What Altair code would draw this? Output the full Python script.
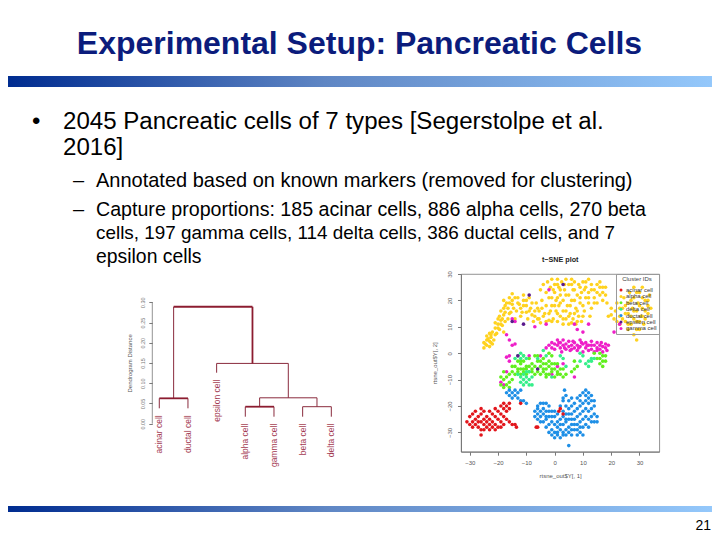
import altair as alt
import pandas as pd

FONT = "Liberation Sans"

title_text = "Experimental Setup: Pancreatic Cells"
bullet_lines = ["2045 Pancreatic cells of 7 types [Segerstolpe et al.", "2016]"]
sub_lines = [
    "Annotated based on known markers (removed for clustering)",
    "Capture proportions: 185 acinar cells, 886 alpha cells, 270 beta",
    "cells, 197 gamma cells, 114 delta cells, 386 ductal cells, and 7",
    "epsilon cells",
]
page_number = "21"

# dendrogram
leaf_names = ["acinar cell", "ductal cell", "epsilon cell", "alpha cell", "gamma cell", "beta cell", "delta cell"]
leaf_pos = [1, 2, 3, 4, 5, 6, 7]
leaf_tip = [0.038, 0.038, 0.126, 0.0173, 0.0173, 0.0173, 0.0173]
merge_left = [1, 4, 6, 4.5, 3, 1.5]
merge_right = [2, 5, 7, 6.5, 5.5, 4.25]
merge_height = [0.0627, 0.042, 0.042, 0.064, 0.149, 0.289]
merge_left_end = [0.038, 0.0173, 0.0173, 0.042, 0.126, 0.0627]
merge_right_end = [0.038, 0.0173, 0.0173, 0.042, 0.064, 0.149]
dist_ticks = [0, 0.05, 0.10, 0.15, 0.20, 0.25, 0.30]

# t-SNE clusters
alpha_pts = [
 (-25,2),(-24,3),(-25,4),(-24,5),(-23,2.5),(-23,4.5),(-22.5,6),(-24,6.5),(-23,7.5),(-22,8),(-21.5,5),(-22,3.5),
 (-21,9.5),(-20.5,7.5),(-20,11),(-21,11.5),(-19.5,9),(-19,12.5),(-18.5,10.5),(-19.5,14),(-18,14.5),(-18,17),
 (-19,16),(-17.5,12),(-16.5,13),(-17,19),(-18,20),(-16,21),(-16.5,17),(-15.5,15.5),(-15,18.5),(-14,21),(-15,22.5),
 (-13.5,16),(-13,19),(-12,17),(-12,14),(-11,20),(-11,22),(-10,18),(-10,15.5),(-9,21),(-9.5,13),(-8.5,17),(-8,14.5),
 (-7.5,12),(-7,16),(-6.5,19),(-6,13),(-5.5,16),(-5,11.5),(-5,24),(-4.5,20),(-4,14),(-4,26),(-3,18),(-3,23),(-3,12),
 (-2.5,27),(-2,15),(-2,21),(-1.5,25),(-1,18),(-1,28),(-0.5,13),(0,23),(0,26),(0.5,16),(0.5,20),(1,28),(1,12),
 (1.5,18),(1.5,25),(2,14),(2,22),(2.5,27),(3,16),(3,20),(3,11),(3.5,24),(4,13),(4,28),(4.5,18),(5,22),(5,26),
 (5,11),(5.5,15),(6,20),(6.5,24),(6.5,13),(7,27),(7.5,17),(7.5,11),(8,22),(8.5,26),(8.5,14),(9,19),(9.5,23),
 (9.5,12),(10,27),(10.5,16),(11,21),(11,25),(12,19),(12,23),(12.5,14),(13,26),(13,17),(14,21),(14,24),(15,19),
 (15,26),(16,22),(16,25),(17,20),(17,23),(18,25),(18.5,19),(19,14),(20,17),(21,13),(21.5,16),(22,19),(23,14),
 (23,11),(24,17),(24.5,21),(25,12),(25,15),(26,19),(26,9),(26.5,23),(27,14),(27,11),(27.5,17),(28,25),(28,21),
 (29,16),(29,12),(29.5,19),(30,23),(30,9),(30.5,14),(31,25),(31,17),(31.5,11),(32,20),(32,13),(33,18),(33,15),
 (33.5,22),(34,17),(28,7),(29,5),(-14,13),(-18,8),(-6,17),(1,21),(7,15),(12,28),(6,28),
 (-24.5,3.5),(-23.5,5.5),(-22.5,4),(-22.5,7),(-21,7),(-20,9.5),(-19,11),(-20,13),(-18.5,13),(-17.5,15.5),(-17.5,18),
 (-16,15),(-16,19),(-15,20),(-14.5,17),(-13,21),(-12.5,18.5),(-11.5,15.5),(-11,18),(-10,20),(-9,16),(-8,19),(-7,14),
 (-5.5,13),(-4.5,17),(-3.5,15),(-2,12.5),(-1.5,16),(-1,21),(-0.5,24),(0,18),(1,15),(1,26),(2,19),(2,24),(3,13),
 (3.5,26),(4,22),(4,16),(5,14),(5.5,18),(6,26),(6,11.5),(7,20),(7,24),(8,16),(8,12),(9,25),(9,21),(10,18),(10,14),
 (10.5,24),(11,27),(12,21),(13,24),(14,19),(15,23),(16,27),(17,25),(18,22),(20,14.5),(22,12),(23,17),(24,13),(25,18),
 (26,11),(26,15),(27,20),(28,13),(28,16),(29,23),(30,12),(30,18),(31,21),(32,16),(33,20),(29,9),(31,14),(-1,12),
]
gamma_pts = [
 (-3,2),(-2,3),(-1,4),(-1,2),(0,3.5),(0,1.5),(1,5),(1,3),(2,2),(2,4),(2.5,0.5),(3,3),(3,5),(4,1.5),(4,3.5),
 (5,2.5),(5,4.5),(5.5,1),(6,3),(7,4),(7,2),(8,1),(8,3),(9,5),(9,2.5),(10,0.5),(10,3.5),(11,2),(11,4),(12,1),
 (12,3),(13,4.5),(13,1.5),(14,3),(14,0.5),(15,2),(15,4),(16,1.5),(16,3),(17,2.5),(17,0.5),(18,3.5),(18,2),(19,3),
 (-5,-1),(-9,-1),(-16,-1),(-17,-1.5),(-16,-3),(-16,5),(-15,3),(-14,3.5),(-17,7),(-15,13),(-14,12),(-7,10),(-3,11),
 (-2,24),(8,9),(10,8),(12,11),(1,-5),(-19,-11),(-18,-12),(-17,-7),(-1,-8),(3,-4),(7,-9),(21,8),(23,11),(7,11),
 (1.5,4),(3.5,2),(6,1.5),(6.5,4.5),(8.5,2),(9.5,4),(11.5,3),(13,3),(15,1),(16.5,4),(18.5,1),
]
beta_pts = [
 (-15,-7),(-14,-5),(-14,-8),(-13,-3),(-13,-6),(-12,-8),(-12,-4),(-11,-6),(-11,-3),(-10,-8),(-10,-5),(-9,-2),
 (-8,-6),(-8,-4),(-7,-1),(-7,-8),(-6,-3),(-6,-6),(-5,-5),(-5,-8),(-4,-2),(-4,-4),(-4,-7),(-3,-9),(-3,-6),(-2,-3),
 (-2,-5),(-2,-8),(-1,-7),(-1,-4),(0,-6),(0,-9),(1,-7),(1,-4),(2,-8),(3,-6),(3,-9),(4,-8),(-6,-1),(-11,-1),
 (-2,0),(-1,-1),(6,-7),(7,-6),(7,-3),(8,-5),(16,0),(17,-1),(16,-2),(17,-3),(16,-4),(15,-2),(18,-1),(18,-3),(17,-5),
 (14,0),(-19,-9),(-18,-10),(-18,-7),(-17,-9),(-17,-12),(-16,-11),(-16,-8),(-15,-10),(-19,-12),(-16,-13),(-18,-13),(-15,-5),
 (-13,-7),(-12,-6),(-11,-7),(-10,-6),(-9,-5),(-9,-7),(-8,-7),(-7,-5),(-6,-7),(-5,-3),(-4,-6),(-3,-4),(-3,-8),(-1,-6),(0,-4),(1,-8),(2,-6),(-12,-3),
]
delta_pts = [
 (-14,-2),(-13,-1),(-12,-2),(-11,-1),(-12,0),(-10,-2),(-13,-8),(-12,-9),(-11,-8),(-10,-9),(-12,-11),(-11,-10),
 (-10,-11),(-9,-10),(-9,-12),(-10,-7),(-8,-12),(-8,-9),(-11,-12),(-9,-7),(11,-4),(12,-3),(13,-3),(14,-2),(12,-5),(13,-2),
 (-6,-2),(-4,1),(-3,-1),(3,-2),(-1,-9),(4,-5),(2,-1),(10,-1),(9,0),(9,-3),
]
ductal_pts = [
 (-17,-15),(-16,-14),(-16,-16),(-15,-15),(-15,-17),(-14,-16),(-14,-14),(-13,-17),(-13,-15),(-12,-14),(-12,-18),(-11,-18),(-10,-19),
 (3.5,-14),(5,-35),(-7,-22),(-7,-24),(-6,-20),(-6,-23),(-6,-25),(-5,-19),(-5,-22),(-5,-24),(-4,-21),(-4,-23),(-4,-26),
 (-3,-19),(-3,-22),(-3,-25),(-3,-28),(-2,-20),(-2,-24),(-2,-27),(-2,-30),(-1,-22),(-1,-26),(-1,-29),(-1,-31),(0,-24),(0,-27),
 (0,-30),(0,-32),(1,-23),(1,-26),(1,-28),(1,-31),(2,-20),(2,-25),(2,-29),(2,-32),(3,-18),(3,-22),(3,-24),(3,-27),(3,-30),
 (4,-16),(4,-20),(4,-23),(4,-26),(4,-29),(4,-31),(5,-18),(5,-21),(5,-25),(5,-28),(5,-30),(6,-17),(6,-20),(6,-23),(6,-27),
 (6,-31),(7,-19),(7,-22),(7,-25),(7,-29),(8,-17),(8,-21),(8,-24),(8,-27),(8,-31),(9,-18),(9,-20),(9,-23),(9,-26),(9,-30),
 (10,-15),(10,-19),(10,-22),(10,-25),(10,-28),(10,-31),(11,-14),(11,-18),(11,-21),(11,-24),(11,-27),(12,-15),(12,-19),(12,-22),
 (12,-25),(12,-28),(13,-18),(13,-21),(13,-24),(13,-26),(14,-20),(14,-23),(14,-26),(15,-24),(15,-26),(3,-17),
 (-6,-21),(-5,-26),(-4,-19),(-3,-24),(-2,-22),(-1,-24),(0,-22),(1,-30),(2,-27),(3,-31),(4,-25),(5,-23),(6,-25),(6,-29),(7,-27),
 (8,-29),(9,-28),(9,-16),(11,-16),(12,-17),(13,-16),(14,-18),
]
acinar_pts = [
 (-31,-26),(-30,-24),(-30,-27),(-29,-23),(-29,-26),(-29,-28),(-28,-22),(-28,-25),(-28,-27),(-27,-24),(-27,-26),(-27,-28),
 (-26,-21),(-26,-23),(-26,-26),(-26,-29),(-26,-31),(-25,-22),(-25,-25),(-25,-27),(-25,-29),(-24,-24),(-24,-26),(-24,-28),
 (-23,-22),(-23,-25),(-23,-27),(-23,-29),(-22,-23),(-22,-26),(-22,-28),(-21,-21),(-21,-24),(-21,-27),(-21,-29),(-20,-22),
 (-20,-25),(-20,-28),(-19,-20),(-19,-23),(-19,-26),(-19,-28),(-18,-19),(-18,-21),(-18,-24),(-18,-27),(-17,-20),(-17,-22),
 (-17,-25),(-16,-19),(-16,-21),(-16,-26),(-15,-27),(-14,-27),(-13.5,-28),(-12,-19),(1.5,-22),(2,-21),(3,-23),(-6.5,-28),(-6,-28),
]
epsilon_pts = [(-13,-1),(-6,-6),(-9,22),(-15,12),(-11,11),(3,26)]

TYPES = ["acinar cell", "alpha cell", "beta cell", "delta cell", "ductal cell", "epsilon cell", "gamma cell"]
COLORS = ["#e2161c", "#ffd21f", "#62ef1f", "#35ef8a", "#1e8fe6", "#5a1a8c", "#ee1fc8"]

rows = []
for name, pts in [("alpha cell", alpha_pts), ("gamma cell", gamma_pts), ("beta cell", beta_pts),
                  ("delta cell", delta_pts), ("ductal cell", ductal_pts), ("acinar cell", acinar_pts),
                  ("epsilon cell", epsilon_pts)]:
    rows += [{"x": p[0], "y": p[1], "type": name} for p in pts]
tsne_df = pd.DataFrame(rows)

one = pd.DataFrame({"a": [0]})
TITLE_NAVY = "#0b1c7c"
GRAD = alt.Gradient(gradient="linear", x1=0, x2=1, y1=0, y2=0,
                    stops=[alt.GradientStop(color="#002c90", offset=0),
                           alt.GradientStop(color="#5f86c4", offset=0.45),
                           alt.GradientStop(color="#94c8fb", offset=1)])

OX, OY = 8, 274  # page position of the left panel's origin
FULL = 704       # the whole chart may be this wide before the page scales it down


def text_layer(s, px, py, size, color="#000000", weight="normal", align="left"):
    return alt.Chart(one).mark_text(text=s, font=FONT, fontSize=size, color=color, fontWeight=weight,
                                    align=align, baseline="middle").encode(x=alt.value(px - OX), y=alt.value(py - OY))


def band(p1, p2):
    return alt.Chart(one).mark_rect(color=GRAD).encode(
        x=alt.value(0), x2=alt.value(FULL), y=alt.value(p1 - OY), y2=alt.value(p2 - OY))


slide_layers = [
    alt.Chart(one).mark_rect(color="white", opacity=0).encode(x=alt.value(0), x2=alt.value(FULL), y=alt.value(8 - OY), y2=alt.value(532 - OY)),
    text_layer(title_text, 359.5, 44, 32, TITLE_NAVY, "bold", "center"), band(76, 87), band(506, 512),
    text_layer("\u2022", 32, 122.5, 24), text_layer(bullet_lines[0], 63, 122.5, 24.1), text_layer(bullet_lines[1], 63, 148.5, 24.1),
    text_layer(page_number, 711, 526, 14, align="right"),
]
for txt, py, sz in zip(sub_lines, [181.5, 210.5, 233.5, 257.5], [20, 19.65, 18.9, 19.4]):
    slide_layers.append(text_layer(txt, 96, py, sz))
for py in [181.5, 210.5]:
    slide_layers.append(text_layer("\u2013", 73, py, 20))

# dendrogram
seg = []
for i in range(len(merge_height)):
    heavy = i in (0, 1, 5)
    seg.append(dict(x=merge_left[i], x2=merge_right[i], y=merge_height[i], y2=merge_height[i], heavy=heavy))
    seg.append(dict(x=merge_left[i], x2=merge_left[i], y=merge_left_end[i], y2=merge_height[i], heavy=False))
    seg.append(dict(x=merge_right[i], x2=merge_right[i], y=merge_right_end[i], y2=merge_height[i], heavy=(i == 5)))
seg_df = pd.DataFrame(seg)
leaf_df = pd.DataFrame({"name": leaf_names, "pos": leaf_pos, "tip": leaf_tip})
axis_df = pd.DataFrame({"lo": [min(dist_ticks)], "hi": [max(dist_ticks)]})

dx_scale = alt.Scale(domain=[-4.277, 11.513], nice=False, zero=False)
dy_scale = alt.Scale(domain=[-0.0692, 0.37], nice=False, zero=False)
dy_axis = alt.Axis(values=dist_ticks, format=".2f", offset=-144.3, domain=False, grid=False, tickColor="#777777",
                   tickSize=3.5, labelAngle=270, labelAlign="center", labelBaseline="bottom", labelFontSize=5.5,
                   labelColor="#777777", labelFont=FONT, labelPadding=3, title="Dendrogram Distance", titleFont=FONT,
                   titleFontSize=6, titleFontWeight="normal", titleColor="#555555", titlePadding=8, zindex=1)


def segs(heavy, width, color):
    return alt.Chart(seg_df[seg_df.heavy == heavy]).mark_rule(strokeWidth=width, color=color).encode(
        x=alt.X("x:Q", scale=dx_scale, axis=None), x2="x2:Q",
        y=alt.Y("y:Q", scale=dy_scale, axis=dy_axis), y2="y2:Q")


left = alt.layer(
    *slide_layers,
    alt.Chart(axis_df).mark_rule(color="#777777", strokeWidth=0.8).encode(
        x=alt.value(144.3), y=alt.Y("lo:Q", scale=dy_scale, axis=dy_axis), y2="hi:Q"),
    segs(False, 1, "#8a2a3c"),
    segs(True, 1.8, "#8c1c30"),
    alt.Chart(leaf_df).mark_text(angle=270, align="right", baseline="middle", dx=-7, font=FONT, fontSize=8.5,
                                 color="#a33a52").encode(
        x=alt.X("pos:Q", scale=dx_scale, axis=None), y=alt.Y("tip:Q", scale=dy_scale, axis=dy_axis), text="name:N"),
).properties(width=452.7, height=177.7, view=alt.ViewConfig(stroke=None))

# t-SNE
tick_vals = [-30, -20, -10, 0, 10, 20, 30]
common = dict(grid=False, domainColor="#777777", tickColor="#777777", tickSize=3.5, labelFontSize=6, labelColor="#555555",
              labelFont=FONT, titleFont=FONT, titleFontSize=6, titleFontWeight="normal", titleColor="#555555", values=tick_vals)
tsne = alt.Chart(tsne_df).mark_circle(size=13, opacity=1).encode(
    x=alt.X("x:Q", scale=alt.Scale(domain=[-33.1, 37], nice=False, zero=False),
            axis=alt.Axis(title="rtsne_out$Y[, 1]", titlePadding=7, labelPadding=4, **common)),
    y=alt.Y("y:Q", scale=alt.Scale(domain=[-37.3, 30], nice=False, zero=False),
            axis=alt.Axis(title="rtsne_out$Y[, 2]", titlePadding=9, labelAngle=270, labelAlign="center",
                          labelBaseline="bottom", labelPadding=5, **common)),
    color=alt.Color("type:N", scale=alt.Scale(domain=TYPES, range=COLORS),
                    legend=alt.Legend(orient="none", legendX=608, legendY=0, title="Cluster IDs", titleFont=FONT,
                                      titleFontSize=6, titleFontWeight="normal", titleColor="#444444", titleAnchor="middle",
                                      labelFont=FONT, labelFontSize=6, labelColor="#333333", symbolSize=9,
                                      symbolType="circle", rowPadding=0.4, padding=2, strokeColor="#999999",
                                      labelOffset=2)),
).properties(width=198.3, height=177.7,
             title=alt.TitleParams("t\u2212SNE plot", font=FONT, fontSize=7.2, fontWeight="bold", anchor="middle",
                                   offset=7, color="#222222"),
             view=alt.ViewConfig(stroke="#777777"))

chart = alt.hconcat(left, tsne, spacing=0, bounds="flush").properties(padding=0, background="white").configure_view(
    strokeWidth=0.8)

chart.save("out.html", embed_options={"renderer": "svg", "actions": False})
